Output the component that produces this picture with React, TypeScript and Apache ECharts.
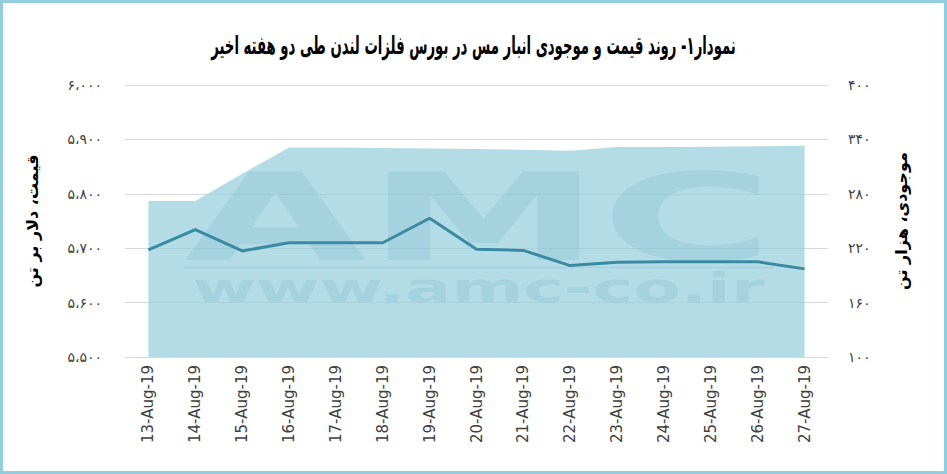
import React, { useEffect, useRef } from "react";
import * as echarts from "echarts";

const categories = [
  "13-Aug-19", "14-Aug-19", "15-Aug-19", "16-Aug-19", "17-Aug-19",
  "18-Aug-19", "19-Aug-19", "20-Aug-19", "21-Aug-19", "22-Aug-19",
  "23-Aug-19", "24-Aug-19", "25-Aug-19", "26-Aug-19", "27-Aug-19",
];
// Price, USD per tonne (left axis)
const price = [5697, 5734, 5695, 5710, 5710, 5710, 5755, 5698, 5696, 5668, 5674, 5675, 5675, 5675, 5662];
// Inventory, thousand tonnes (right axis)
const stock = [272, 272, 302, 331, 331, 330.5, 330, 329.5, 328.5, 327.5, 331.5, 331.7, 332, 332.5, 333];

const titleText = "نمودار۱- روند قیمت و موجودی انبار مس در بورس فلزات لندن طی دو هفته اخیر";
const leftName = "قیمت، دلار بر تن";
const rightName = "موجودی، هزار تن";

const FA = "۰۱۲۳۴۵۶۷۸۹";
function toFa(v: number, sep: boolean): string {
  let s = String(Math.round(v));
  if (sep && s.length > 3) s = s.slice(0, s.length - 3) + "،" + s.slice(s.length - 3);
  return s.replace(/[0-9]/g, (d) => FA[Number(d)]);
}

const FONT = "DejaVu Sans";

export default function App() {
  const ref = useRef<HTMLDivElement>(null);
  useEffect(() => {
    if (!ref.current) return;
    const chart = echarts.init(ref.current, undefined, { renderer: "svg" });
    const wm = "rgba(100,170,195,0.19)";
    chart.setOption({
      animation: false,
      backgroundColor: "#ffffff",
      grid: { left: 125, right: 119, top: 85, bottom: 117 },
      xAxis: {
        type: "category",
        data: categories,
        boundaryGap: true,
        axisLine: { show: true, lineStyle: { color: "#d9d9d9" } },
        axisTick: { show: false },
        axisLabel: { rotate: 90, fontFamily: FONT, fontSize: 15, color: "#404040", margin: 8, interval: 0 },
      },
      yAxis: [
        {
          type: "value",
          min: 5500,
          max: 6000,
          interval: 100,
          name: leftName,
          nameLocation: "middle",
          nameRotate: 90,
          nameGap: 85,
          nameTextStyle: { fontFamily: FONT, fontSize: 16, fontWeight: "bold", color: "#000" },
          axisLine: { show: false },
          axisTick: { show: false },
          splitLine: { lineStyle: { color: "#d9d9d9", width: 1 } },
          axisLabel: { fontFamily: FONT, fontSize: 14, color: "#404040", margin: 23, formatter: (v: number) => toFa(v, true) },
        },
        {
          type: "value",
          min: 100,
          max: 400,
          interval: 60,
          name: rightName,
          nameLocation: "middle",
          nameRotate: 90,
          nameGap: 65,
          nameTextStyle: { fontFamily: FONT, fontSize: 16, fontWeight: "bold", color: "#000" },
          axisLine: { show: false },
          axisTick: { show: false },
          splitLine: { show: false },
          axisLabel: { fontFamily: FONT, fontSize: 14, color: "#404040", margin: 20, formatter: (v: number) => toFa(v, false) },
        },
      ],
      graphic: [
        {
          type: "text",
          x: 473.5,
          y: 45,
          scaleX: 0.53,
          z: 50,
          silent: true,
          style: { text: titleText, x: 0, y: 0, align: "center", verticalAlign: "middle", fontFamily: FONT, fontWeight: "bold", fontSize: 25, fill: "#000" },
        },
        {
          type: "text",
          x: 479,
          y: 217.5,
          scaleX: 1.93,
          z: 5,
          silent: true,
          style: { text: "AMC", x: 0, y: 0, align: "center", verticalAlign: "middle", fontFamily: FONT, fontWeight: "bold", fontSize: 122, fill: wm },
        },
        {
          type: "line",
          z: 5,
          silent: true,
          shape: { x1: 183, y1: 267.5, x2: 773, y2: 267.5 },
          style: { stroke: wm, lineWidth: 1.5 },
        },
        {
          type: "text",
          x: 478.5,
          y: 287.5,
          scaleX: 1.66,
          z: 5,
          silent: true,
          style: { text: "www.amc-co.ir", x: 0, y: 0, align: "center", verticalAlign: "middle", fontFamily: FONT, fontWeight: "bold", fontSize: 41.5, fill: wm },
        },
        {
          type: "rect",
          z: 100,
          silent: true,
          shape: { x: 1.5, y: 1.5, width: 944, height: 471 },
          style: { fill: "none", stroke: "#93cde0", lineWidth: 3 },
        },
      ],
      series: [
        {
          type: "line",
          yAxisIndex: 1,
          data: stock,
          z: 1,
          symbol: "none",
          lineStyle: { width: 0 },
          itemStyle: { color: "rgb(148,205,219)" },
          areaStyle: { color: "rgb(148,205,219)", opacity: 0.7, origin: "start" },
        },
        {
          type: "line",
          yAxisIndex: 0,
          data: price,
          z: 10,
          symbol: "none",
          lineStyle: { width: 3, color: "#3a8ba2" },
          itemStyle: { color: "#3a8ba2" },
        },
      ],
    });
    return () => chart.dispose();
  }, []);
  return <div ref={ref} style={{ position: "fixed", left: 0, top: 0, width: 947, height: 474 }} />;
}
